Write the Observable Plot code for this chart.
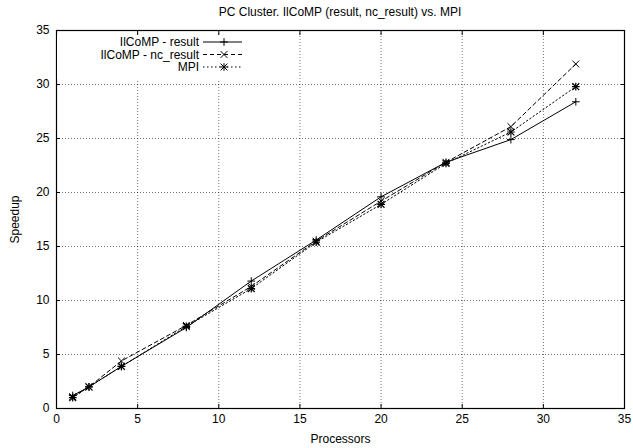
<!DOCTYPE html>
<html>
<head>
<meta charset="utf-8">
<script src="https://cdn.jsdelivr.net/npm/d3@7"></script>
<script src="https://cdn.jsdelivr.net/npm/@observablehq/plot@0.6"></script>
<style>
  body { margin: 0; background: #fff; font-family: "Liberation Sans", Arial, sans-serif; }
  #wrap { position: relative; width: 633px; height: 448px; }
  #title { height: 22px; line-height: 24px; font-size: 12px; text-align: left; padding-left: 0; position: relative; }
  #title span { position: absolute; left: 340px; transform: translateX(-50%); white-space: nowrap; top: 0; }
  #legend { position: absolute; left: 57px; top: 35px; }
</style>
</head>
<body>
<div id="wrap">
  <div id="title"><span>PC Cluster. IlCoMP (result, nc_result) vs. MPI</span></div>
  <div id="chart"></div>
  <svg id="legend" width="195" height="44"></svg>
</div>
<script>
const procs    = [1, 2, 4, 8, 12, 16, 20, 24, 28, 32];
const result   = [1.2, 2.0, 3.9, 7.5, 11.8, 15.6, 19.6, 22.8, 24.9, 28.4];
const ncResult = [1.1, 2.0, 4.4, 7.7, 11.3, 15.5, 19.2, 22.8, 26.1, 31.9];
const mpi      = [1.0, 2.0, 3.9, 7.6, 11.1, 15.4, 18.9, 22.7, 25.6, 29.8];
const seriesNames = ["IlCoMP - result", "IlCoMP - nc_result", "MPI"];
const xTicks = [0, 5, 10, 15, 20, 25, 30, 35];
const yTicks = [0, 5, 10, 15, 20, 25, 30, 35];
const gridX = [5, 10, 15, 20, 25, 30];
const gridY = [5, 10, 15, 20, 25, 30];

const mk = (vals) => procs.map((p, i) => ({x: p, y: vals[i]}));
const dR = mk(result), dN = mk(ncResult), dM = mk(mpi);

const styles = [
  {dash: null, symbols: ["plus"]},
  {dash: "4,3", symbols: ["times"]},
  {dash: "1.5,2.5", symbols: ["plus", "times"]}
];

const chart = Plot.plot({
  width: 633,
  height: 426,
  marginLeft: 56,
  marginRight: 9,
  marginTop: 8,
  marginBottom: 40,
  style: {fontFamily: "Liberation Sans, Arial, sans-serif", fontSize: "12px", color: "#000", background: "#fff"},
  x: {domain: [0, 35], ticks: xTicks, label: null},
  y: {domain: [0, 35], ticks: yTicks, label: null},
  marks: [
    Plot.gridX(gridX, {stroke: "#000", strokeOpacity: 0.55, strokeDasharray: "1,2", strokeWidth: 1}),
    Plot.gridY(gridY, {stroke: "#000", strokeOpacity: 0.55, strokeDasharray: "1,2", strokeWidth: 1}),
    Plot.axisX(xTicks, {anchor: "bottom", tickSize: -4, tickPadding: 10, label: "Processors", labelAnchor: "center", labelArrow: "none", labelOffset: 34, fontSize: 12}),
    Plot.axisX(xTicks, {anchor: "top", tickSize: -4, tickFormat: () => "", label: null}),
    Plot.axisY(yTicks, {anchor: "left", tickSize: -4, tickPadding: 11, label: "Speedup", labelAnchor: "center", labelArrow: "none", labelOffset: 46, fontSize: 12}),
    Plot.axisY(yTicks, {anchor: "right", tickSize: -4, tickFormat: () => "", label: null}),
    Plot.line(dR, {x: "x", y: "y", stroke: "#000", strokeWidth: 1}),
    Plot.line(dN, {x: "x", y: "y", stroke: "#000", strokeWidth: 1, strokeDasharray: styles[1].dash}),
    Plot.line(dM, {x: "x", y: "y", stroke: "#000", strokeWidth: 1, strokeDasharray: styles[2].dash}),
    Plot.dot(dR, {x: "x", y: "y", symbol: "plus", r: 2.6, stroke: "#000", strokeWidth: 1}),
    Plot.dot(dN, {x: "x", y: "y", symbol: "times", r: 3.2, stroke: "#000", strokeWidth: 1}),
    Plot.dot(dM, {x: "x", y: "y", symbol: "plus", r: 2.6, stroke: "#000", strokeWidth: 1.2}),
    Plot.dot(dM, {x: "x", y: "y", symbol: "times", r: 3.2, stroke: "#000", strokeWidth: 1.2}),
    Plot.frame({stroke: "#000", strokeWidth: 1.2})
  ]
});
document.getElementById("chart").appendChild(chart);

// legend (key box with white background, as in the original)
const leg = d3.select("#legend");
leg.append("rect").attr("width", 195).attr("height", 44).attr("fill", "#fff");
const rowsY = [7, 19.5, 32];
const textRight = 142, lineX1 = 146, lineX2 = 185, markX = 167;
seriesNames.forEach((name, i) => {
  const g = leg.append("g").attr("transform", `translate(0,${rowsY[i]})`);
  g.append("text").attr("x", textRight).attr("y", 0).attr("dy", "0.35em")
    .attr("text-anchor", "end").attr("font-size", 12)
    .attr("font-family", "Liberation Sans, Arial, sans-serif").text(name);
  g.append("line").attr("x1", lineX1).attr("x2", lineX2).attr("y1", 0).attr("y2", 0)
    .attr("stroke", "#000").attr("stroke-width", 1)
    .attr("stroke-dasharray", styles[i].dash);
  styles[i].symbols.forEach(s => {
    const sym = s === "plus" ? d3.symbolPlus : d3.symbolTimes;
    const size = s === "plus" ? Math.PI * 2.6 * 2.6 : Math.PI * 3.2 * 3.2;
    g.append("path").attr("transform", `translate(${markX},0)`)
      .attr("d", d3.symbol(sym, size)()).attr("fill", "none")
      .attr("stroke", "#000").attr("stroke-width", 1);
  });
});
</script>
</body>
</html>
